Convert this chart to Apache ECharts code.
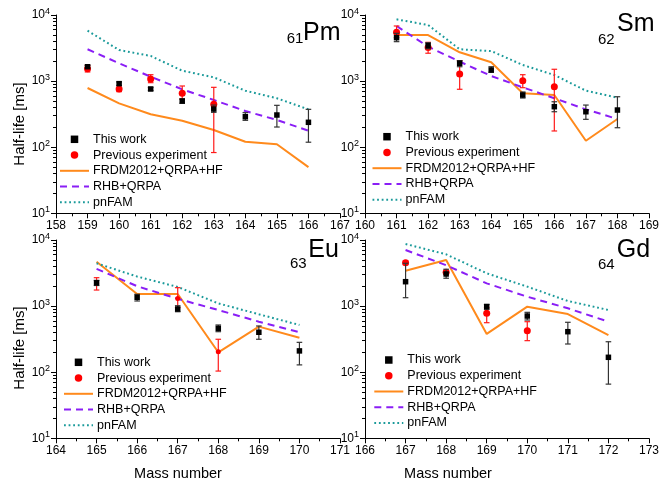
<!DOCTYPE html>
<html><head><meta charset="utf-8">
<script src="https://cdn.jsdelivr.net/npm/echarts@6/dist/echarts.min.js"></script>
<style>html,body{margin:0;padding:0;background:#fff}#c{width:662px;height:487px}</style>
</head><body><div id="c"></div>
<script>
// ---------- data (half-lives in ms) ----------
// Pm (Z=61)
const pmXRange = [158, 167];
const pmMass = [159, 160, 161, 162, 163, 164, 165, 166];
const pmFRDM  = [787, 461, 315, 252, 182, 121, 111, 50];
const pmRHB   = [3030, 1860, 1167, 751, 518, 353, 258, 178];
const pmPnFAM = [5790, 2950, 2400, 1437, 1140, 716, 550, 374];
// [mass, value, low, high]
const pmThisWork = [[159,1650,1580,1730],[160,915,860,970],[161,760,720,800],[162,500,461,535],[163,378,337,434],[164,289,255,333],[165,307,202,430],[166,238,119,374]];
const pmPrevious = [[159,1540,1374,1734],[160,759,692,805],[161,1077,946,1250],[162,653,535,843],[163,446,83,805]];

// Sm (Z=62)
const smXRange = [160, 169];
const smMass = [161, 162, 163, 164, 165, 166, 167, 168];
const smFRDM  = [4980, 4980, 2730, 1925, 653, 616, 125, 267];
const smRHB   = [6820, 3320, 1970, 1195, 805, 550, 374, 267];
const smPnFAM = [8600, 7060, 3030, 2850, 1753, 1237, 716, 561];
const smThisWork = [[161,4540,3950,5280],[162,3435,3090,3810],[163,1860,1650,2040],[164,1472,1360,1650],[165,616,555,684],[166,410,344,487],[167,344,264,434],[168,365,197,580]];
const smPrevious = [[161,5470,4540,6820],[162,3210,2640,3860],[163,1280,752,2040],[165,1014,795,1250],[166,822,176,1510]];

// Eu (Z=63)
const euXRange = [164, 171];
const euMass = [165, 166, 167, 168, 169, 170];
const euFRDM  = [4700, 1525, 1525, 200, 489, 333];
const euRHB   = [3650, 2000, 1290, 873, 581, 402];
const euPnFAM = [4440, 2800, 1950, 1100, 752, 518];
const euThisWork = [[165,2250,2050,2450],[166,1360,1195,1510],[167,904,822,1014],[168,461,410,518],[169,402,315,500],[170,210,129,283]];
const euPrevious = [[165,2200,1750,2690],[167,1300,950,1900],[168,204,104,315]];

// Gd (Z=64)
const gdXRange = [166, 173];
const gdMass = [167, 168, 169, 170, 171, 172];
const gdFRDM  = [3435, 4980, 379, 980, 759, 365];
const gdRHB   = [7060, 4150, 2210, 1387, 927, 581];
const gdPnFAM = [8710, 6070, 3130, 1970, 1195, 873];
const gdThisWork = [[167,2340,1340,4440],[168,3060,2640,3610],[169,980,895,1064],[170,708,616,805],[171,410,267,569],[172,168,66,289]];
const gdPrevious = [[167,4540,4250,4850],[168,3240,3050,3450],[169,778,561,946],[170,424,300,581]];

const yRange = [10, 10000];
const yMinorTicks = [20,30,40,50,60,70,80,90,200,300,400,500,600,700,800,900,2000,3000,4000,5000,6000,7000,8000,9000];
const legendNames = ['This work', 'Previous experiment', 'FRDM2012+QRPA+HF', 'RHB+QRPA', 'pnFAM'];

// ---------- styling ----------
const FONT = "'Liberation Sans', Arial, sans-serif";
const C_FRDM = '#FF8A1C', C_RHB = '#8A1EF5', C_PN = '#1A9A9A';

const panels = [
  {grid:{left:56, top:15, width:284, height:198.3}, xr:pmXRange, mass:pmMass, frdm:pmFRDM, rhb:pmRHB, pn:pmPnFAM, tw:pmThisWork, prev:pmPrevious, legend:{left:59, top:132.3}, prevSize:7,
   el:{sym:'Pm', z:'61', x:303, y:33.3, zx:286.7, zy:39}},
  {grid:{left:365, top:15, width:285.5, height:198.3}, xr:smXRange, mass:smMass, frdm:smFRDM, rhb:smRHB, pn:smPnFAM, tw:smThisWork, prev:smPrevious, legend:{left:371.5, top:129.7}, prevSize:7,
   el:{sym:'Sm', z:'62', x:617, y:24.5, zx:598, zy:39.5}},
  {grid:{left:56, top:240, width:284, height:198.3}, xr:euXRange, mass:euMass, frdm:euFRDM, rhb:euRHB, pn:euPnFAM, tw:euThisWork, prev:euPrevious, legend:{left:63, top:355.3}, prevSize:5,
   el:{sym:'Eu', z:'63', x:308.3, y:250, zx:290, zy:264}},
  {grid:{left:365, top:240, width:285.5, height:198.3}, xr:gdXRange, mass:gdMass, frdm:gdFRDM, rhb:gdRHB, pn:gdPnFAM, tw:gdThisWork, prev:gdPrevious, legend:{left:373.3, top:353}, prevSize:7,
   el:{sym:'Gd', z:'64', x:616.7, y:250, zx:598, zy:265}}
];

function errRender(color, cap) {
  return function (params, api) {
    const x = api.value(0), lo = api.value(1), hi = api.value(2);
    const p1 = api.coord([x, lo]), p2 = api.coord([x, hi]);
    const st = {stroke: color, lineWidth: 1.2};
    return {type: 'group', children: [
      {type: 'line', shape: {x1: p1[0], y1: p1[1], x2: p2[0], y2: p2[1]}, style: st},
      {type: 'line', shape: {x1: p1[0] - cap, y1: p1[1], x2: p1[0] + cap, y2: p1[1]}, style: st},
      {type: 'line', shape: {x1: p2[0] - cap, y1: p2[1], x2: p2[0] + cap, y2: p2[1]}, style: st}
    ]};
  };
}

const grid = [], xAxis = [], yAxis = [], series = [], legend = [], graphic = [];
panels.forEach((p, i) => {
  grid.push(Object.assign({containLabel: false}, p.grid));
  xAxis.push({
    type: 'value', gridIndex: i, min: p.xr[0], max: p.xr[1], interval: 1,
    axisLine: {show: true, onZero: false, lineStyle: {color: '#000', width: 1}},
    axisTick: {show: true, length: 5, lineStyle: {color: '#000'}},
    minorTick: {show: true, splitNumber: 2, length: 3, lineStyle: {color: '#000'}},
    splitLine: {show: false},
    axisLabel: {color: '#000', fontSize: 12, fontFamily: FONT, margin: 6, showMinLabel: true, showMaxLabel: true}
  });
});
panels.forEach((p, i) => {
  yAxis.push({
    type: 'log', gridIndex: i, position: 'left', min: yRange[0], max: yRange[1], logBase: 10,
    axisLine: {show: true, onZero: false, lineStyle: {color: '#000', width: 1}},
    axisTick: {show: true, length: 5, lineStyle: {color: '#000'}},
    splitLine: {show: false},
    axisLabel: {
      color: '#000', margin: 6,
      formatter: v => '{b|10}{s|' + Math.round(Math.log10(v)) + '}',
      rich: {
        b: {fontSize: 12, fontFamily: FONT, lineHeight: 16, color: '#000'},
        s: {fontSize: 9, fontFamily: FONT, lineHeight: 9, verticalAlign: 'top', color: '#000'}
      }
    }
  });
});
panels.forEach((p, i) => {
  yAxis.push({
    type: 'log', gridIndex: i, position: 'left', min: yRange[0], max: yRange[1], logBase: 10,
    axisLine: {show: false, onZero: false},
    axisTick: {show: true, length: 3, customValues: yMinorTicks, lineStyle: {color: '#000'}},
    axisLabel: {show: false},
    splitLine: {show: false}
  });
});

const lineLegend = {itemStyle: {opacity: 0}};
panels.forEach((p, i) => {
  const pair = arr => p.mass.map((m, k) => [m, arr[k]]);
  series.push({name: 'FRDM2012+QRPA+HF', type: 'line', xAxisIndex: i, yAxisIndex: i, data: pair(p.frdm), symbol: 'none', lineStyle: {color: C_FRDM, width: 2}, itemStyle: {color: C_FRDM}, z: 2});
  series.push({name: 'RHB+QRPA', type: 'line', xAxisIndex: i, yAxisIndex: i, data: pair(p.rhb), symbol: 'none', lineStyle: {color: C_RHB, width: 2, type: [7, 5]}, itemStyle: {color: C_RHB}, z: 2});
  series.push({name: 'pnFAM', type: 'line', xAxisIndex: i, yAxisIndex: i, data: pair(p.pn), symbol: 'none', lineStyle: {color: C_PN, width: 2, type: [1.8, 2.8]}, itemStyle: {color: C_PN}, z: 2});
  series.push({name: 'prevErr', type: 'custom', xAxisIndex: i, yAxisIndex: i, data: p.prev.map(r => [r[0], r[2], r[3]]), encode: {x: 0, y: [1, 2]}, renderItem: errRender('#FF1A1A', 2.8), z: 3, silent: true});
  series.push({name: 'Previous experiment', type: 'scatter', xAxisIndex: i, yAxisIndex: i, data: p.prev.map(r => [r[0], r[1]]), symbol: 'circle', symbolSize: p.prevSize, itemStyle: {color: '#FF0000', opacity: 1}, z: 4});
  series.push({name: 'twErr', type: 'custom', xAxisIndex: i, yAxisIndex: i, data: p.tw.map(r => [r[0], r[2], r[3]]), encode: {x: 0, y: [1, 2]}, renderItem: errRender('#333333', 2.8), z: 5, silent: true});
  series.push({name: 'This work', type: 'scatter', xAxisIndex: i, yAxisIndex: i, data: p.tw.map(r => [r[0], r[1]]), symbol: 'rect', symbolSize: 5.5, itemStyle: {color: '#000', opacity: 1}, z: 6});

  legend.push({
    orient: 'vertical', left: p.legend.left, top: p.legend.top, padding: 0,
    itemWidth: 29, itemHeight: 7.5, itemGap: 1.75, selectedMode: false,
    symbolKeepAspect: true,
    textStyle: {color: '#000', fontSize: 12.5, fontFamily: FONT, lineHeight: 14, padding: [0, 0, 0, -1]},
    data: [
      {name: legendNames[0], icon: 'path://M0 0H10V10H0Z'},
      {name: legendNames[1], icon: 'circle', itemStyle: {color: '#FF0000'}},
      Object.assign({name: legendNames[2]}, lineLegend),
      Object.assign({name: legendNames[3]}, lineLegend),
      Object.assign({name: legendNames[4]}, lineLegend)
    ]
  });

  graphic.push({type: 'text', x: p.el.x, y: p.el.y, style: {text: p.el.sym, fontSize: 25, fontFamily: FONT, fill: '#000', align: 'left', verticalAlign: 'middle'}});
  graphic.push({type: 'text', x: p.el.zx, y: p.el.zy, style: {text: p.el.z, fontSize: 15, fontFamily: FONT, fill: '#000', align: 'left', verticalAlign: 'middle'}});
});

graphic.push({type: 'text', x: 20, y: 124, rotation: Math.PI / 2, style: {text: 'Half-life [ms]', fontSize: 15, fontFamily: FONT, fill: '#000', align: 'center', verticalAlign: 'middle'}});
graphic.push({type: 'text', x: 20, y: 348, rotation: Math.PI / 2, style: {text: 'Half-life [ms]', fontSize: 15, fontFamily: FONT, fill: '#000', align: 'center', verticalAlign: 'middle'}});
graphic.push({type: 'text', x: 178, y: 474, style: {text: 'Mass number', fontSize: 14.5, fontFamily: FONT, fill: '#000', align: 'center', verticalAlign: 'middle'}});
graphic.push({type: 'text', x: 448, y: 474, style: {text: 'Mass number', fontSize: 14.5, fontFamily: FONT, fill: '#000', align: 'center', verticalAlign: 'middle'}});

const chart = echarts.init(document.getElementById('c'), null, {renderer: 'canvas'});
chart.setOption({
  animation: false,
  backgroundColor: '#fff',
  grid, xAxis, yAxis, series, legend, graphic
});
</script>
</body></html>
